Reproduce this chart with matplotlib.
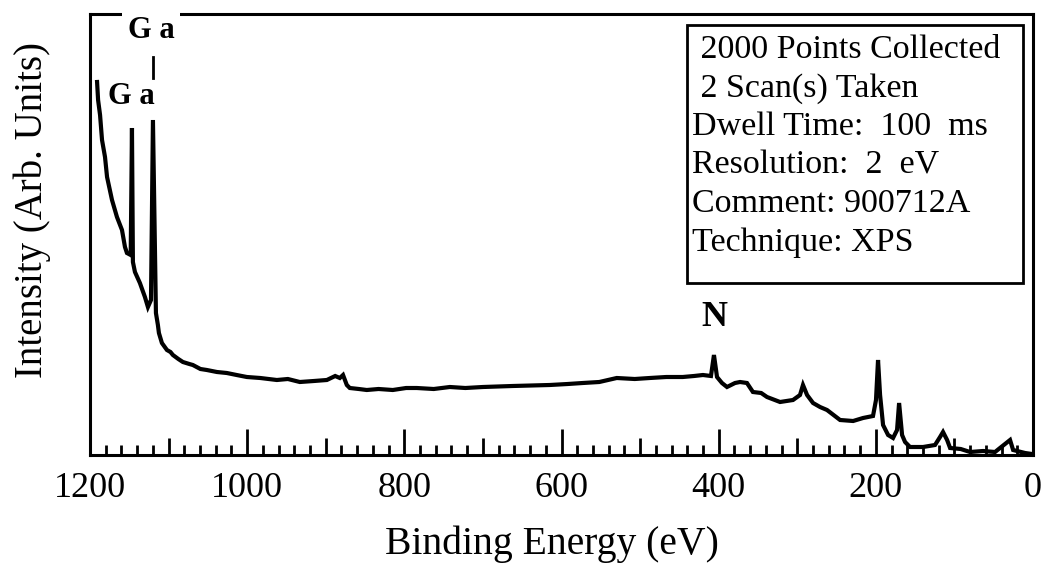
import matplotlib
matplotlib.use("Agg")
import matplotlib.pyplot as plt
from matplotlib.ticker import MultipleLocator, FuncFormatter
from matplotlib.patches import Rectangle

# XPS survey spectrum (binding energy in eV, intensity in arb. units)
energy = [1191.0, 1189.7, 1187.2, 1184.7, 1180.9, 1178.3, 1172.0, 1165.7, 1159.3, 1155.5,
          1153.0, 1148.2, 1146.6, 1145.4, 1142.8, 1136.5, 1130.1, 1126.3, 1122.4, 1119.9,
          1116.1, 1113.6, 1112.3, 1108.5, 1102.1, 1097.6, 1094.5, 1087.6, 1081.8, 1073.6,
          1069.1, 1059.5, 1051.3, 1038.5, 1025.9, 1013.4, 1000.4, 983.3, 962.2, 948.2,
          933.0, 915.1, 898.6, 888.0, 882.1, 878.0, 873.2, 869.4, 857.9, 847.8,
          832.8, 814.7, 797.7, 784.2, 762.6, 742.1, 722.4, 700.1, 662.3, 615.0,
          592.1, 573.0, 551.9, 529.7, 506.8, 487.7, 466.6, 445.7, 431.4, 420.0,
          409.8, 406.0, 402.1, 395.8, 389.4, 379.2, 372.8, 364.0, 356.4, 345.9,
          338.5, 321.9, 305.4, 296.5, 292.7, 287.5, 279.9, 271.0, 262.1, 245.5,
          228.9, 216.3, 203.6, 199.8, 197.2, 194.6, 190.8, 184.4, 178.1, 173.0,
          170.4, 166.6, 162.8, 156.5, 139.9, 124.7, 118.3, 114.5, 109.3, 105.5,
          92.0, 80.1, 63.5, 48.3, 42.0, 29.2, 25.3, 10.1, 1.2]
intensity = [373, 355, 340, 315, 298, 278, 255, 238, 225, 208,
             202, 200, 327, 193, 183, 172, 158, 148, 155, 335,
             142, 130, 122, 112, 105, 103, 100, 96, 93, 91,
             90, 86, 85, 83, 82, 80, 78, 77, 75, 76,
             73, 74, 75, 79, 77, 80, 70, 67, 66, 65,
             66, 65, 67, 67, 66, 68, 67, 68, 69, 70,
             71, 72, 73, 77, 76, 77, 78, 78, 79, 80,
             79, 100, 78, 72, 68, 72, 73, 72, 63, 62,
             58, 53, 55, 60, 70, 60, 52, 48, 45, 35,
             34, 37, 39, 55, 95, 60, 30, 20, 17, 25,
             52, 20, 13, 8, 8, 10, 18, 23, 15, 7,
             6, 3, 4, 3, 7, 15, 5, 2, 1]

info_lines = [" 2000 Points Collected", " 2 Scan(s) Taken", "Dwell Time:  100  ms",
              "Resolution:  2  eV", "Comment: 900712A", "Technique: XPS"]

plt.rcParams["font.family"] = ["Liberation Serif", "DejaVu Serif"]

W, H = 1041, 568
fig = plt.figure(figsize=(W / 100, H / 100), dpi=100)
ax = fig.add_axes([90 / W, (H - 455) / H, (1033 - 90) / W, (455 - 14) / H])

ax.plot(energy, intensity, color="black", lw=3, solid_joinstyle="miter")

ax.set_xlim(1200, 0)
ax.set_ylim(0, 441)

for side in ["left", "right", "top", "bottom"]:
    ax.spines[side].set_linewidth(2.2)

# ticks: inward, major every 100 (labelled every 200), minor every 20
ax.xaxis.set_major_locator(MultipleLocator(100))
ax.xaxis.set_minor_locator(MultipleLocator(20))
ax.xaxis.set_major_formatter(FuncFormatter(lambda v, p: "%d" % v if round(v) % 200 == 0 else ""))
ax.tick_params(axis="x", which="major", direction="in", length=19, width=2, labelsize=26, pad=12)
ax.tick_params(axis="x", which="minor", direction="in", length=7, width=2)
ax.set_yticks([])
fig.canvas.draw()
locs = ax.xaxis.get_majorticklocs()
for t, v in zip(ax.xaxis.get_major_ticks(), locs):
    if round(v) % 200 != 0:
        t.tick1line.set_markersize(12)

ax.set_xlabel("Binding Energy (eV)", fontsize=28.5)
ax.xaxis.set_label_coords(0.49, -0.16)
ax.xaxis.label.set_va("top")
ax.set_ylabel("Intensity (Arb. Units)", fontsize=28)
ax.yaxis.set_label_coords(-0.041, 0.555)

# peak labels
ax.text(1147, 358, "G a", fontsize=22, fontweight="bold", ha="center", va="center")
ax.text(1122, 424, "G a", fontsize=22, fontweight="bold", ha="center", va="center",
        bbox=dict(facecolor="white", edgecolor="none", pad=4))
ax.plot([1119.9, 1119.9], [377, 398], color="black", lw=2)
ax.text(406, 138, "N", fontsize=26, fontweight="bold", ha="center", va="center")

# info box
ax.add_patch(Rectangle((0.633, 0.390), 0.356, 0.585, transform=ax.transAxes,
                       fill=False, edgecolor="black", lw=2))
for i, line in enumerate(info_lines):
    ax.text(0.638, (455 - 58 - i * 38.6) / 441, line, transform=ax.transAxes,
            fontsize=24.5, ha="left", va="baseline")

fig.savefig("out.png", dpi=100)
